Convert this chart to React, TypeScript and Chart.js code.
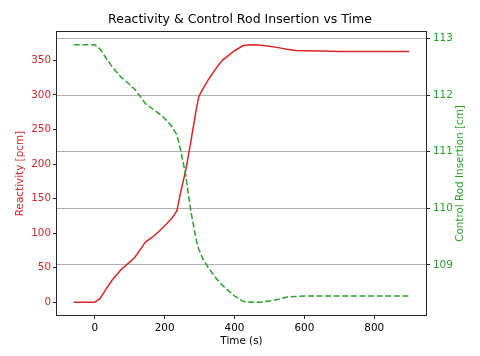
import React, { useEffect, useRef } from 'react';
import { Chart, registerables } from 'chart.js';

Chart.register(...registerables);

const times = [-60, 0, 15, 30, 50, 75, 100, 115, 130, 145, 165, 185, 205, 220, 235, 245, 260, 275, 290, 298, 310, 325, 345, 365, 385, 400, 425, 450, 475, 500, 525, 550, 575, 600, 650, 700, 800, 900];
const reactivity = [0, 0, 5, 17, 32, 47, 58, 65, 76, 87, 94, 103, 113, 121, 132, 157, 190, 232, 278, 298, 309, 322, 337, 350, 358, 364, 371.5, 372.5, 372, 370.5, 368.5, 366, 364.5, 364, 363.5, 363, 363, 363];
const rodInsertion = [112.89, 112.89, 112.82, 112.68, 112.5, 112.32, 112.19, 112.1, 111.98, 111.85, 111.76, 111.67, 111.56, 111.45, 111.3, 111.05, 110.6, 109.95, 109.45, 109.27, 109.1, 108.95, 108.78, 108.64, 108.53, 108.45, 108.35, 108.34, 108.34, 108.36, 108.39, 108.43, 108.44, 108.45, 108.45, 108.45, 108.45, 108.45];

const timeTicks = [0, 200, 400, 600, 800];
const reactivityTicks = [0, 50, 100, 150, 200, 250, 300, 350];
const rodTicks = [109, 110, 111, 112, 113];

const TITLE = 'Reactivity & Control Rod Insertion vs Time';
const X_LABEL = 'Time (s)';
const Y_LABEL = 'Reactivity [pcm]';
const Y1_LABEL = 'Control Rod Insertion [cm]';

const RED = '#d62728';
const GREEN = '#2ca02c';
const FONT = 'DejaVu Sans';

function padRange(values: number[]) {
  const mn = Math.min(...values);
  const mx = Math.max(...values);
  const p = (mx - mn) * 0.05;
  return [mn - p, mx + p];
}

const framePlugin = {
  id: 'frame',
  afterDatasetsDraw(chart: any) {
    const { ctx, chartArea: a } = chart;
    ctx.save();
    ctx.strokeStyle = '#262626';
    ctx.lineWidth = 1;
    ctx.strokeRect(Math.round(a.left) - 0.5, Math.round(a.top) - 0.5, Math.round(a.right - a.left) + 1, Math.round(a.bottom - a.top) + 1);
    ctx.restore();
  },
  afterDraw(chart: any) {
    const { ctx, chartArea: a } = chart;
    ctx.save();
    ctx.fillStyle = GREEN;
    ctx.font = `10.4px "${FONT}"`;
    ctx.textAlign = 'center';
    ctx.textBaseline = 'middle';
    ctx.translate(460.5, (a.top + a.bottom) / 2);
    ctx.rotate(-Math.PI / 2);
    ctx.fillText(Y1_LABEL, 0, 0);
    ctx.restore();
  },
};

export default function App() {
  const ref = useRef<HTMLCanvasElement | null>(null);
  useEffect(() => {
    if (!ref.current) return;
    const [xmin, xmax] = padRange(times);
    const [ymin, ymax] = padRange(reactivity);
    const [y1min, y1max] = padRange(rodInsertion);
    const tickFont = { family: FONT, size: 10.4 };
    const chart = new Chart(ref.current, {
      type: 'line',
      data: {
        datasets: [
          {
            label: 'Control Rod Insertion',
            data: times.map((t, i) => ({ x: t, y: rodInsertion[i] })),
            borderColor: GREEN,
            borderWidth: 1.5,
            borderDash: [6, 2.6],
            pointRadius: 0,
            tension: 0,
            yAxisID: 'y1',
            order: 0,
          },
          {
            label: 'Reactivity',
            data: times.map((t, i) => ({ x: t, y: reactivity[i] })),
            borderColor: RED,
            borderWidth: 1.5,
            pointRadius: 0,
            tension: 0,
            yAxisID: 'y',
            order: 1,
          },
        ],
      },
      options: {
        animation: false,
        responsive: false,
        devicePixelRatio: 1,
        layout: { padding: 0 },
        plugins: {
          legend: { display: false },
          tooltip: { enabled: false },
          title: {
            display: true,
            text: TITLE,
            color: '#000',
            font: { family: FONT, size: 12.5, weight: 'normal', lineHeight: 1.2 },
            padding: { top: 12.5, bottom: 4.5 },
          },
        },
        scales: {
          x: {
            type: 'linear',
            min: xmin,
            max: xmax,
            afterBuildTicks: (axis: any) => { axis.ticks = timeTicks.map((v) => ({ value: v })); },
            afterFit: (s: any) => { s.height = 41; },
            grid: { drawOnChartArea: false, tickLength: 4, tickColor: '#262626' },
            border: { display: false },
            ticks: { color: '#000', font: tickFont, padding: 3, maxRotation: 0, autoSkip: false },
            title: { display: true, text: X_LABEL, color: '#000', font: { family: FONT, size: 10.4, lineHeight: 1.2 }, padding: { top: 0, bottom: 8 } },
          },
          y: {
            type: 'linear',
            position: 'left',
            min: ymin,
            max: ymax,
            afterBuildTicks: (axis: any) => { axis.ticks = reactivityTicks.map((v) => ({ value: v })); },
            afterFit: (s: any) => { s.width = 57; },
            grid: { drawOnChartArea: false, tickLength: 4, tickColor: '#262626' },
            border: { display: false },
            ticks: { color: RED, font: tickFont, padding: 2, autoSkip: false },
            title: { display: true, text: Y_LABEL, color: RED, font: { family: FONT, size: 10.4, lineHeight: 1.2 }, padding: { top: 13.75, bottom: 0 } },
          },
          y1: {
            type: 'linear',
            position: 'right',
            min: y1min,
            max: y1max,
            afterBuildTicks: (axis: any) => { axis.ticks = rodTicks.map((v) => ({ value: v })); },
            afterFit: (s: any) => { s.width = 54; },
            grid: { drawOnChartArea: true, color: '#b0b0b0', lineWidth: 1, tickLength: 4, tickColor: '#262626' },
            border: { display: false },
            ticks: { color: GREEN, font: tickFont, padding: 3, autoSkip: false },
          },
        },
      },
      plugins: [framePlugin],
    } as any);
    return () => chart.destroy();
  }, []);
  return (
    <div style={{ position: 'absolute', left: 0, top: 0, width: 480, height: 356 }}>
      <canvas ref={ref} width={480} height={356} style={{ display: 'block' }} />
    </div>
  );
}
